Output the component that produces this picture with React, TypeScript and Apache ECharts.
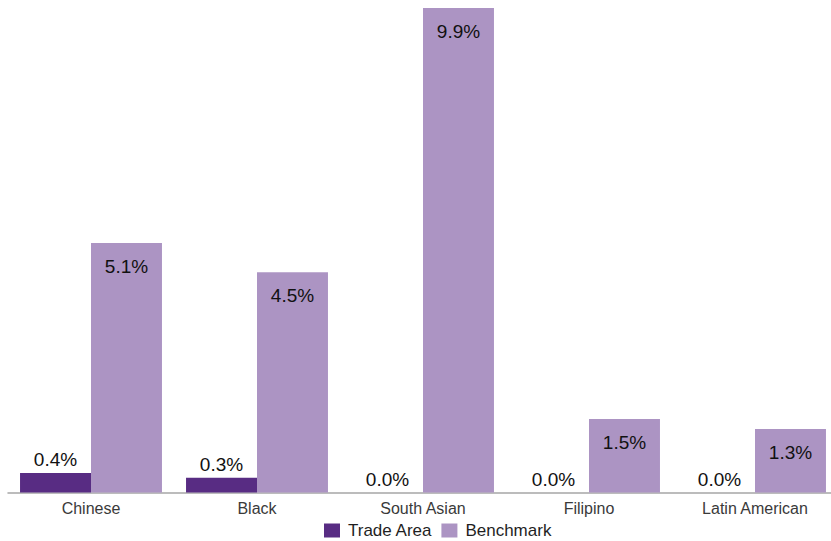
import React, { useEffect, useRef } from "react";
import * as echarts from "echarts";

const categories = ["Chinese", "Black", "South Asian", "Filipino", "Latin American"];
const tradeArea = [0.4, 0.3, 0.0, 0.0, 0.0];
const benchmark = [5.1, 4.5, 9.9, 1.5, 1.3];

export default function App() {
  const ref = useRef<HTMLDivElement>(null);
  useEffect(() => {
    const chart = echarts.init(ref.current!, null, { renderer: "svg" });
    const font = "Liberation Sans, Arial, sans-serif";
    chart.setOption({
      animation: false,
      grid: { left: 8, width: 830, top: 8, bottom: 48.5, containLabel: false },
      legend: {
        data: ["Trade Area", "Benchmark"],
        left: 324,
        top: 522,
        padding: 0,
        itemWidth: 16,
        itemHeight: 14,
        itemGap: 9,
        icon: "rect",
        textStyle: { fontFamily: font, fontSize: 17, color: "#1f1f1f", padding: [0, 0, 0, 3] },
      },
      xAxis: {
        type: "category",
        data: categories,
        axisLine: { lineStyle: { color: "#a6a6a6", width: 1.5 } },
        axisTick: { show: false },
        axisLabel: { fontFamily: font, fontSize: 16, color: "#3a3a3a", margin: 8 },
      },
      yAxis: { type: "value", min: 0, max: 9.9, show: false, splitLine: { show: false } },
      series: [
        {
          name: "Trade Area",
          type: "bar",
          data: tradeArea,
          barGap: "0%",
          barCategoryGap: "14.5%",
          itemStyle: { color: "#582c83" },
          label: {
            show: true,
            position: "top",
            distance: 4,
            formatter: (p: any) => p.value.toFixed(1) + "%",
            fontFamily: font,
            fontSize: 19,
            color: "#111",
          },
        },
        {
          name: "Benchmark",
          type: "bar",
          data: benchmark,
          itemStyle: { color: "#ac94c3" },
          label: {
            show: true,
            position: "insideTop",
            distance: 14,
            formatter: (p: any) => p.value.toFixed(1) + "%",
            fontFamily: font,
            fontSize: 19,
            color: "#111",
          },
        },
      ],
    });
    return () => chart.dispose();
  }, []);
  return (
    <div style={{ position: "absolute", left: 0, top: 0, width: 831, height: 541, overflow: "hidden", background: "#fff" }}>
      <div ref={ref} style={{ width: 846, height: 541 }} />
    </div>
  );
}
